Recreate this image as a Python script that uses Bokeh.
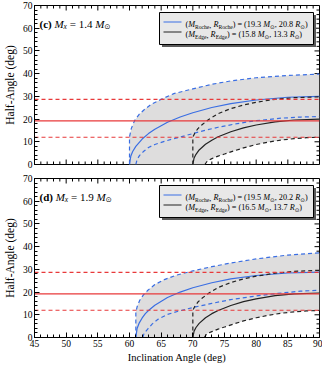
import numpy as np
from bokeh.plotting import figure
from bokeh.models import Range1d, SingleIntervalTicker, LinearAxis, Span, ColumnDataSource
from bokeh.layouts import column
from bokeh.embed import file_html
from bokeh.resources import INLINE

# ---------------- data ----------------
# red reference levels (deg)
red_levels_dashed = [12.0, 28.7]
red_level_solid = 19.2

# panel (c)
c_mass = "1.4"
c_roche_vals = ["19.3", "20.8"]
c_edge_vals = ["15.8", "13.3"]
c_rs_x = [60.0, 60.2, 60.5, 61.0, 62.0, 63.0, 64.0, 66.0, 68.0, 70.0, 73.0, 76.0, 80.0, 85.0, 90.0]
c_rs_y = [0.0, 3.6, 5.7, 8.0, 11.2, 13.6, 15.5, 18.6, 20.9, 22.8, 25.1, 26.8, 28.4, 29.6, 30.0]
c_ru_x = [60.0, 60.0, 60.3, 60.8, 61.5, 62.4, 63.5, 65.0, 67.0, 70.0, 73.0, 76.0, 80.0, 85.0, 90.0]
c_ru_y = [0.0, 12.2, 16.0, 19.3, 22.0, 24.3, 26.6, 28.7, 31.2, 33.3, 35.3, 36.8, 38.2, 39.2, 39.8]
c_rl_x = [61.0, 61.2, 61.6, 62.2, 63.0, 64.0, 65.5, 67.0, 68.7, 71.0, 74.0, 77.0, 80.0, 84.0, 87.0, 90.0]
c_rl_y = [0.0, 2.2, 4.0, 5.7, 7.5, 8.8, 10.2, 11.4, 12.6, 14.4, 16.4, 18.0, 19.3, 20.4, 20.9, 21.1]
c_es_x = [70.0, 70.2, 70.5, 71.0, 72.0, 73.0, 74.0, 76.0, 78.0, 80.0, 83.0, 86.0, 90.0]
c_es_y = [0.0, 2.9, 4.5, 6.4, 8.9, 10.7, 12.2, 14.4, 16.1, 17.4, 18.8, 19.6, 20.0]
c_eu_x = [70.0, 70.0, 70.3, 70.8, 71.5, 72.5, 74.0, 76.0, 78.0, 80.0, 83.0, 86.0, 90.0]
c_eu_y = [0.0, 12.0, 13.8, 15.8, 17.6, 19.8, 22.4, 24.6, 26.2, 27.4, 28.7, 29.4, 29.8]
c_el_x = [71.9, 72.3, 73.0, 74.0, 75.0, 76.5, 78.0, 80.0, 82.0, 84.0, 86.0, 88.0, 90.0]
c_el_y = [0.0, 1.6, 2.6, 3.7, 4.6, 6.0, 7.3, 8.8, 9.9, 10.8, 11.4, 11.8, 12.0]

# panel (d)
d_mass = "1.9"
d_roche_vals = ["19.5", "20.2"]
d_edge_vals = ["16.5", "13.7"]
d_rs_x = [61.0, 61.2, 61.5, 62.0, 62.5, 63.0, 64.0, 66.0, 68.0, 70.0, 73.0, 76.0, 80.0, 85.0, 90.0]
d_rs_y = [0.0, 4.0, 6.2, 8.6, 10.5, 11.9, 14.2, 17.6, 20.0, 21.9, 24.1, 25.8, 27.3, 28.4, 28.8]
d_ru_x = [61.0, 61.0, 61.2, 61.6, 62.2, 62.9, 64.0, 65.5, 67.5, 70.0, 73.0, 76.0, 80.0, 85.0, 90.0]
d_ru_y = [0.0, 11.1, 13.5, 16.3, 18.8, 20.8, 23.3, 25.5, 27.5, 29.3, 31.2, 32.8, 34.6, 36.3, 37.3]
d_rl_x = [62.1, 62.3, 62.9, 63.6, 64.5, 66.0, 68.0, 70.0, 73.0, 76.0, 80.0, 84.0, 87.0, 90.0]
d_rl_y = [0.0, 1.8, 3.8, 6.0, 8.0, 10.2, 11.8, 13.2, 15.0, 16.7, 18.3, 19.6, 20.4, 20.8]
d_es_x = [70.0, 70.2, 70.5, 71.0, 72.0, 73.0, 74.0, 76.0, 78.0, 80.0, 83.0, 86.0, 90.0]
d_es_y = [0.0, 2.8, 4.4, 6.2, 8.7, 10.5, 11.9, 14.1, 15.8, 17.0, 18.4, 19.2, 19.6]
d_eu_x = [70.0, 70.0, 70.3, 70.8, 71.5, 72.5, 74.0, 76.0, 78.0, 80.0, 83.0, 86.0, 90.0]
d_eu_y = [0.0, 11.9, 13.6, 15.6, 17.4, 19.5, 22.0, 24.2, 25.8, 27.0, 28.3, 29.1, 29.6]
d_el_x = [71.8, 72.2, 73.0, 74.0, 75.0, 76.5, 78.0, 80.0, 82.0, 84.0, 86.0, 88.0, 90.0]
d_el_y = [0.0, 1.6, 2.6, 3.7, 4.6, 6.0, 7.3, 8.7, 9.8, 10.7, 11.3, 11.7, 11.9]

X_MIN, X_MAX = 45, 90
Y_MIN, Y_MAX = 0, 70
X_MAJOR, X_MINOR_STEP = 5, 1
Y_MAJOR, Y_MINOR_STEP = 10, 2

# ---------------- style ----------------
FW, FH = 285, 159
BLUE = "#3a6ee3"
RED = "#e8393a"
BLACK = "#222222"
FILL = "#dedddd"
SERIF = "Liberation Serif"
SUN = "\u2299"
DASH = "4 3"
MAJ_LEN, MIN_LEN = 5, 3

W_REG = {' ': 250, '(': 333, ')': 333, ',': 250, '.': 250, '=': 564, '-': 333,
         'R': 667, 'o': 500, 'c': 444, 'h': 500, 'e': 444, 'E': 611, 'd': 500, 'g': 500}
for _d in "0123456789":
    W_REG[_d] = 500
W_IT = {'M': 833, 'R': 611, 'x': 444}
W_BOLD = {'(': 333, ')': 333, 'c': 444, 'd': 556}


def seg_width(text, style, size):
    if style == "sun":
        return 838 * size / 1000.0 * len(text)
    tbl = W_IT if style == "italic" else (W_BOLD if style == "bold" else W_REG)
    w = 0
    for ch in text:
        w += tbl.get(ch, W_REG.get(ch, 500))
    return w * size / 1000.0


def rich_rows(x, y, segs, size, rows):
    xo = 0.0
    for text, style, sub in segs:
        fs = size * 0.68 if sub else size
        font = "DejaVu Sans" if style == "sun" else SERIF
        st = "normal" if style == "sun" else style
        core = text.strip()
        lead = len(text) - len(text.lstrip())
        if core:
            rows["x"].append(x)
            rows["y"].append(y)
            rows["text"].append(core)
            rows["xo"].append(xo + lead * 0.25 * fs)
            rows["yo"].append(size * 0.28 if sub else 0.0)
            rows["fs"].append("%.2fpx" % fs)
            rows["st"].append(st)
            rows["font"].append(font)
        xo += seg_width(text, style, fs)


def style_axis(ax, ticker_interval, minor):
    ax.ticker = SingleIntervalTicker(interval=ticker_interval, num_minor_ticks=minor)
    ax.major_tick_in = MAJ_LEN
    ax.major_tick_out = 0
    ax.minor_tick_in = MIN_LEN
    ax.minor_tick_out = 0
    ax.axis_line_color = "black"
    ax.major_tick_line_color = "black"
    ax.minor_tick_line_color = "black"
    ax.major_label_text_font = SERIF
    ax.major_label_text_color = "black"
    ax.major_label_text_font_size = "9.5px"
    ax.major_label_standoff = 2
    ax.axis_label_text_font = SERIF
    ax.axis_label_text_font_style = "normal"
    ax.axis_label_text_color = "black"


def make_panel(letter, mass, roche_vals, edge_vals, rs, ru, rl, es, eu, el,
               bottom, top_border, bottom_border):
    p = figure(frame_width=FW, frame_height=FH,
               x_range=Range1d(X_MIN, X_MAX), y_range=Range1d(Y_MIN, Y_MAX),
               x_axis_type=None, y_axis_type=None,
               output_backend="svg", toolbar_location=None,
               min_border_left=0, min_border_right=3,
               min_border_top=top_border, min_border_bottom=bottom_border)
    p.outline_line_color = "black"
    p.xgrid.visible = False
    p.ygrid.visible = False
    p.background_fill_color = "white"
    p.border_fill_color = "white"

    sx = (X_MAX - X_MIN) / FW
    sy = (Y_MAX - Y_MIN) / FH

    left = LinearAxis()
    style_axis(left, Y_MAJOR, Y_MAJOR // Y_MINOR_STEP)
    left.axis_label = "Half-Angle (deg)"
    left.axis_label_text_font_size = "11.5px"
    left.axis_label_standoff = 4
    p.add_layout(left, "left")
    if bottom:
        below = LinearAxis()
        style_axis(below, X_MAJOR, X_MAJOR // X_MINOR_STEP)
        below.axis_label = "Inclination Angle (deg)"
        below.axis_label_text_font_size = "10.5px"
        below.axis_label_standoff = 2
        p.add_layout(below, "below")

    # mirrored inward ticks (top, right, and bottom of the upper panel)
    xt = np.arange(X_MIN, X_MAX + 0.001, X_MINOR_STEP)
    yt = np.arange(Y_MIN, Y_MAX + 0.001, Y_MINOR_STEP)
    xlen = np.where(np.isclose(np.mod(xt - X_MIN, X_MAJOR), 0), MAJ_LEN, MIN_LEN)
    ylen = np.where(np.isclose(np.mod(yt - Y_MIN, Y_MAJOR), 0), MAJ_LEN, MIN_LEN)
    p.segment(xt, np.full_like(xt, Y_MAX), xt, Y_MAX - xlen * sy, line_color="black", line_width=1)
    p.segment(np.full_like(yt, X_MAX), yt, X_MAX - ylen * sx, yt, line_color="black", line_width=1)
    if not bottom:
        p.segment(xt, np.full_like(xt, Y_MIN), xt, Y_MIN + xlen * sy, line_color="black", line_width=1)

    # shaded region: between Roche upper-bound curve and Edge lower-bound curve
    px_ = list(ru[0]) + list(el[0])[::-1]
    py_ = list(ru[1]) + list(el[1])[::-1]
    p.patch(px_, py_, fill_color=FILL, line_color=None)

    for lv in red_levels_dashed:
        p.add_layout(Span(location=lv, dimension="width", line_color=RED,
                          line_width=1.2, line_dash=DASH, level="glyph"))
    p.add_layout(Span(location=red_level_solid, dimension="width", line_color=RED,
                      line_width=1.2, level="glyph"))

    p.line(rs[0], rs[1], line_color=BLUE, line_width=1.2)
    p.line(ru[0], ru[1], line_color=BLUE, line_width=1.2, line_dash=DASH)
    p.line(rl[0], rl[1], line_color=BLUE, line_width=1.2, line_dash=DASH)
    p.line(es[0], es[1], line_color=BLACK, line_width=1.2)
    p.line(eu[0], eu[1], line_color=BLACK, line_width=1.2, line_dash=DASH)
    p.line(el[0], el[1], line_color=BLACK, line_width=1.2, line_dash=DASH)

    # legend box with shadow
    bl, br, bt, bb = X_MAX - 160 * sx, X_MAX - 6 * sx, Y_MAX - 7 * sy, Y_MAX - 39 * sy
    p.quad(left=[bl + 2.5 * sx], right=[br + 2.5 * sx], top=[bt - 2.5 * sy], bottom=[bb - 2.5 * sy],
           fill_color="#5a5a5a", line_color=None)
    p.quad(left=[bl], right=[br], top=[bt], bottom=[bb],
           fill_color="#e8e8e8", line_color="black", line_width=1)
    p.line([X_MAX - 156 * sx, X_MAX - 138 * sx], [Y_MAX - 16.5 * sy] * 2, line_color=BLUE, line_width=1.2)
    p.line([X_MAX - 156 * sx, X_MAX - 138 * sx], [Y_MAX - 26.5 * sy] * 2, line_color=BLACK, line_width=1.2)

    rows = {k: [] for k in ["x", "y", "text", "xo", "yo", "fs", "st", "font"]}
    rich_rows(X_MIN + 5 * sx, Y_MAX - 18 * sy,
              [("(%s)" % letter, "bold", False), (" ", "normal", False),
               ("M", "italic", False), ("x", "italic", True),
               (" = %s " % mass, "normal", False), ("M", "italic", False),
               (SUN, "sun", True)], 11, rows)
    for k, (name, vals) in enumerate([("Roche", roche_vals), ("Edge", edge_vals)]):
        rich_rows(X_MAX - 134 * sx, Y_MAX - (19 + 10 * k) * sy,
                  [("(", "normal", False), ("M", "italic", False), (name, "normal", True),
                   (", ", "normal", False), ("R", "italic", False), (name, "normal", True),
                   (") = (%s " % vals[0], "normal", False), ("M", "italic", False),
                   (SUN, "sun", True), (", %s " % vals[1], "normal", False),
                   ("R", "italic", False), (SUN, "sun", True), (")", "normal", False)],
                  8.2, rows)
    src = ColumnDataSource(rows)
    p.text(x="x", y="y", text="text", x_offset="xo", y_offset="yo",
           text_font_size="fs", text_font_style="st", text_font="font",
           text_align="left", text_baseline="alphabetic", text_color="black",
           source=src)
    return p


p1 = make_panel("c", c_mass, c_roche_vals, c_edge_vals,
                (c_rs_x, c_rs_y), (c_ru_x, c_ru_y), (c_rl_x, c_rl_y),
                (c_es_x, c_es_y), (c_eu_x, c_eu_y), (c_el_x, c_el_y),
                bottom=False, top_border=5, bottom_border=6)
p2 = make_panel("d", d_mass, d_roche_vals, d_edge_vals,
                (d_rs_x, d_rs_y), (d_ru_x, d_ru_y), (d_rl_x, d_rl_y),
                (d_es_x, d_es_y), (d_eu_x, d_eu_y), (d_el_x, d_el_y),
                bottom=True, top_border=8, bottom_border=0)

layout = column(p1, p2, spacing=0)
open("out.html", "w").write(file_html(layout, INLINE))
